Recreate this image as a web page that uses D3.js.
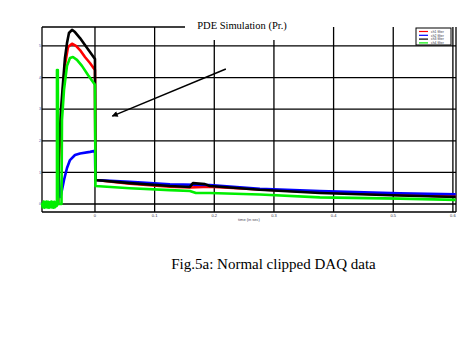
<!DOCTYPE html>
<html><head><meta charset="utf-8">
<script src="https://cdn.jsdelivr.net/npm/d3@7"></script>
<style>body{margin:0;background:#fff}svg{display:block}</style>
</head><body>
<script>
const title = "PDE Simulation (Pr.)";
const caption = "Fig.5a: Normal clipped DAQ data";
const xLabel = "time (in sec)";
const xTicks = [0, 0.1, 0.2, 0.3, 0.4, 0.5, 0.6];
const xTickLabels = ["0", "0.1", "0.2", "0.3", "0.4", "0.5", "0.6"];
const yTicks = [0, 1, 2, 3, 4, 5];
const yTickLabels = ["0", "1", "2", "3", "4", "5"];
const legendNames = ["ch1 filter", "ch2 filter", "ch3 filter", "ch4 filter"];
const seriesColors = ["#ff0000", "#0000ff", "#000000", "#00ee00"];

const red = [[-0.0888,0],[-0.062,0],[-0.0603,1.4],[-0.057,2.66],[-0.0536,3.6],[-0.0503,4.4],[-0.0452,4.97],[-0.0385,5.07],[-0.0318,5.0],[-0.0251,4.87],[-0.0168,4.65],[-0.0084,4.46],[0,4.24],[0.0008,0.76],[0.0586,0.64],[0.1256,0.55],[0.1591,0.52],[0.1926,0.55],[0.2764,0.46],[0.3769,0.37],[0.5109,0.29],[0.6047,0.24]];
const blue = [[-0.0888,0],[-0.063,0],[-0.062,1.08],[-0.0578,0.22],[-0.0553,0.44],[-0.0519,0.76],[-0.0469,1.14],[-0.0419,1.39],[-0.0335,1.55],[-0.0251,1.60],[-0.0084,1.65],[0,1.68],[0.0008,0.76],[0.0586,0.70],[0.1256,0.62],[0.1926,0.60],[0.2764,0.48],[0.3769,0.41],[0.5109,0.34],[0.6047,0.31]];
const black = [[-0.0888,0],[-0.062,0],[-0.0603,1.71],[-0.057,2.97],[-0.0536,3.83],[-0.0503,4.62],[-0.0469,5.09],[-0.0436,5.41],[-0.0385,5.51],[-0.0335,5.44],[-0.0251,5.25],[-0.0168,5.03],[-0.0084,4.81],[0,4.59],[0.0008,0.76],[0.0586,0.66],[0.1256,0.57],[0.1591,0.54],[0.1642,0.66],[0.1843,0.63],[0.1926,0.57],[0.2764,0.45],[0.3769,0.35],[0.5109,0.27],[0.6047,0.22]];
const green = [[-0.0888,0.04],[-0.0875,-0.1],[-0.0862,0.08],[-0.0849,-0.12],[-0.0836,0.06],[-0.0823,-0.1],[-0.081,0.08],[-0.0797,-0.11],[-0.0784,0.07],[-0.0771,-0.12],[-0.0758,0.05],[-0.0745,-0.1],[-0.0732,0.08],[-0.0719,-0.11],[-0.0706,0.06],[-0.0693,-0.12],[-0.068,0.07],[-0.0667,-0.1],[-0.0654,0.05],[-0.0641,-0.06],[-0.0637,0],[-0.0637,4.24],[-0.0623,4.24],[-0.0615,0],[-0.0561,0],[-0.0553,2.66],[-0.0519,3.61],[-0.0469,4.37],[-0.0419,4.62],[-0.0369,4.65],[-0.0302,4.56],[-0.0218,4.37],[-0.0117,4.08],[0,3.77],[0.0008,0.57],[0.0586,0.50],[0.1256,0.44],[0.1591,0.41],[0.1692,0.35],[0.1926,0.35],[0.2764,0.30],[0.3769,0.21],[0.5109,0.17],[0.6047,0.13]];
const seriesData = [red, blue, black, green];
const arrowFrom = [0.2194, 4.27];
const arrowTo = [0.0290, 2.78];

const W = 476, H = 362;
const svg = d3.select("body").append("svg").attr("width", W).attr("height", H);
const x = d3.scaleLinear().domain([-0.0888, 0.6052]).range([42, 456]);
const y = d3.scaleLinear().domain([-0.253, 5.6]).range([212, 27]);

// grid
const g = svg.append("g");
g.selectAll(".vg").data(xTicks).join("line")
  .attr("x1", d => x(d)).attr("x2", d => x(d)).attr("y1", y.range()[1]).attr("y2", y.range()[0])
  .attr("stroke", "#000").attr("stroke-width", 1.3);
g.selectAll(".hg").data(yTicks).join("line")
  .attr("x1", x.range()[0]).attr("x2", x.range()[1]).attr("y1", d => y(d)).attr("y2", d => y(d))
  .attr("stroke", "#000").attr("stroke-width", 1.3);
// frame
const fr = svg.append("g").attr("stroke", "#000").attr("stroke-width", 1.3);
fr.append("line").attr("x1", x.range()[0]).attr("x2", x.range()[0]).attr("y1", y.range()[1]).attr("y2", y.range()[0]);
fr.append("line").attr("x1", x.range()[1]).attr("x2", x.range()[1]).attr("y1", y.range()[1]).attr("y2", y.range()[0]);
fr.append("line").attr("x1", x.range()[0]).attr("x2", x.range()[1]).attr("y1", y.range()[0]).attr("y2", y.range()[0]);
fr.append("line").attr("x1", x.range()[0]).attr("x2", 185).attr("y1", y.range()[1]).attr("y2", y.range()[1]);

// series
const line = d3.line().x(d => x(d[0])).y(d => y(d[1]));
svg.append("g").selectAll("path").data(seriesData).join("path")
  .attr("d", line).attr("fill", "none")
  .attr("stroke", (d, i) => seriesColors[i]).attr("stroke-width", 2.6)
  .attr("stroke-linejoin", "round");

// title box
svg.append("rect").attr("x", 185).attr("y", 8).attr("width", 118).attr("height", 32).attr("fill", "#fff");
svg.append("text").attr("x", 242).attr("y", 28.5).attr("text-anchor", "middle")
  .attr("font-family", "Liberation Serif, Times New Roman, serif").attr("font-size", 10.5).text(title);

// tick labels
svg.append("g").selectAll("text").data(xTicks).join("text")
  .attr("x", d => x(d)).attr("y", 217).attr("text-anchor", "middle")
  .attr("font-family", "Liberation Sans, Arial, sans-serif").attr("font-size", 4).attr("fill", "#334")
  .text((d, i) => xTickLabels[i]);
svg.append("g").selectAll("text").data(yTicks).join("text")
  .attr("x", 41).attr("y", d => y(d) + 1.2).attr("text-anchor", "end")
  .attr("font-family", "Liberation Sans, Arial, sans-serif").attr("font-size", 3.5).attr("fill", "#3355aa")
  .text((d, i) => yTickLabels[i]);
svg.append("text").attr("x", 249).attr("y", 221).attr("text-anchor", "middle")
  .attr("font-family", "Liberation Sans, Arial, sans-serif").attr("font-size", 4).attr("fill", "#445")
  .text(xLabel);

// legend
const lg = svg.append("g");
lg.append("rect").attr("x", 416).attr("y", 28).attr("width", 35).attr("height", 17)
  .attr("fill", "#fff").attr("stroke", "#000").attr("stroke-width", 1);
legendNames.forEach((n, i) => {
  const yy = 31.5 + i * 3.8;
  lg.append("line").attr("x1", 419).attr("x2", 428).attr("y1", yy).attr("y2", yy)
    .attr("stroke", seriesColors[i]).attr("stroke-width", 1.2);
  lg.append("text").attr("x", 431).attr("y", yy + 1.2).attr("font-size", 3.4)
    .attr("font-family", "Liberation Sans, Arial, sans-serif").attr("fill", "#334").text(n);
});

// arrow
const defs = svg.append("defs");
defs.append("marker").attr("id", "ah").attr("viewBox", "0 0 10 10").attr("refX", 9).attr("refY", 5)
  .attr("markerWidth", 8).attr("markerHeight", 6).attr("markerUnits", "userSpaceOnUse").attr("orient", "auto")
  .append("path").attr("d", "M0,0 L10,5 L0,10 z").attr("fill", "#000");
svg.append("line").attr("x1", x(arrowFrom[0])).attr("y1", y(arrowFrom[1]))
  .attr("x2", x(arrowTo[0])).attr("y2", y(arrowTo[1]))
  .attr("stroke", "#000").attr("stroke-width", 1.5).attr("marker-end", "url(#ah)");

// caption
svg.append("text").attr("x", 273.5).attr("y", 269).attr("text-anchor", "middle")
  .attr("font-family", "Liberation Serif, Times New Roman, serif").attr("font-size", 15).text(caption);
</script>
</body></html>
